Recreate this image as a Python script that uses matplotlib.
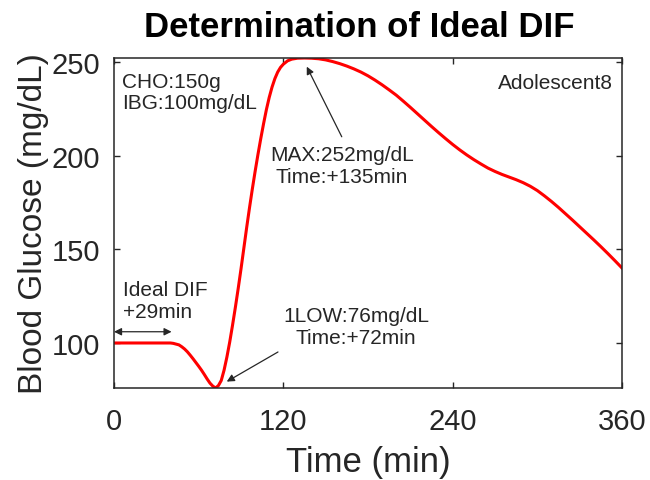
import matplotlib
matplotlib.use("Agg")
import matplotlib.pyplot as plt

plt.rcParams['font.family'] = ['Liberation Sans', 'DejaVu Sans']

# Glucose trace (min, mg/dL)
time_min = [0, 10, 20, 30, 40, 42, 44, 46, 48, 50, 52, 54, 56, 58, 60, 62, 64, 66,
            68, 70, 72, 74, 76, 78, 80, 82, 84, 86, 88, 90, 92, 94, 96, 98, 100,
            102, 104, 106, 108, 110, 112, 114, 116, 118, 120, 123, 126, 130, 135,
            140, 145, 150, 155, 160, 165, 170, 175, 180, 185, 190, 195, 200, 205,
            210, 215, 220, 225, 230, 235, 240, 245, 250, 255, 260, 265, 270, 275,
            280, 285, 290, 295, 300, 305, 310, 315, 320, 325, 330, 335, 340, 345,
            350, 355, 360]
glucose = [100, 100, 100, 100, 100, 99.8, 99.4, 99.0, 98.0, 96.8, 95.3, 93.5, 91.6,
           89.6, 87.6, 85.5, 83.2, 80.8, 78.6, 77, 76, 77.3, 80, 85.5, 92.5, 100.5,
           109.5, 119, 129, 139.5, 150.5, 161.5, 172, 182, 191.5, 200.5, 209, 217,
           224.5, 231, 236.5, 241, 244.5, 247, 248.7, 250.5, 251.4, 251.9, 252,
           251.9, 251.6, 251.0, 250.1, 249.0, 247.7, 246.2, 244.5, 242.5, 240.2,
           237.7, 235.0, 232.2, 229.0, 225.7, 222.3, 218.9, 215.5, 212.2, 209.0,
           205.9, 203.0, 200.3, 197.8, 195.5, 193.3, 191.5, 189.9, 188.5, 187.1,
           185.5, 183.6, 181.3, 178.5, 175.5, 172.3, 168.9, 165.5, 162.0, 158.5,
           155.0, 151.4, 147.7, 143.9, 140.0]

x_ticks = [0, 120, 240, 360]
y_ticks = [100, 150, 200, 250]

dark = '#262626'

fig = plt.figure(figsize=(6.5, 4.81), dpi=100)
ax = fig.add_axes([0.1754, 0.1913, 0.7815, 0.686])

ax.plot(time_min, glucose, color='red', linewidth=2.2)

ax.set_xlim(0, 360)
ax.set_ylim(76, 252)
ax.set_xticks(x_ticks)
ax.set_yticks(y_ticks)
ax.tick_params(direction='in', top=True, right=True, length=4.5, width=1,
               labelsize=21, colors=dark, labelcolor=dark)
ax.tick_params(axis='x', pad=14)
ax.tick_params(axis='y', pad=10)
for s in ax.spines.values():
    s.set_color(dark)
    s.set_linewidth(1.1)

ax.set_xlabel("Time (min)", fontsize=25, color=dark, labelpad=7)
ax.set_ylabel("Blood Glucose (mg/dL)", fontsize=24, color=dark, labelpad=2)
ax.set_title("Determination of Ideal DIF", fontsize=25, fontweight='bold', pad=16, x=0.482)

txt = dict(fontsize=15, color=dark)
ax.text(5.5, 234, "CHO:150g\nIBG:100mg/dL", va='center', ha='left', linespacing=1.1, **txt)
ax.text(353.6, 238.7, "Adolescent8", va='center', ha='right', **txt)
ax.text(161.6, 194.7, "MAX:252mg/dL\nTime:+135min", va='center', ha='center', linespacing=1.2, **txt)
ax.text(171.5, 108.8, "1LOW:76mg/dL\nTime:+72min", va='center', ha='center', linespacing=1.2, **txt)
ax.text(6.4, 122.7, "Ideal DIF\n+29min", va='center', ha='left', linespacing=1.2, **txt)

arrow = dict(arrowstyle='-|>', color=dark, lw=0.9, mutation_scale=11, shrinkA=0, shrinkB=0)
ax.annotate("", xy=(136.6, 247.4), xytext=(161.4, 210), arrowprops=arrow)
ax.annotate("", xy=(79.9, 79.4), xytext=(116.2, 95.2), arrowprops=arrow)
ax.annotate("", xy=(40.8, 106), xytext=(0, 106),
            arrowprops=dict(arrow, arrowstyle='<|-|>'))

fig.savefig("out.png", dpi=100)
